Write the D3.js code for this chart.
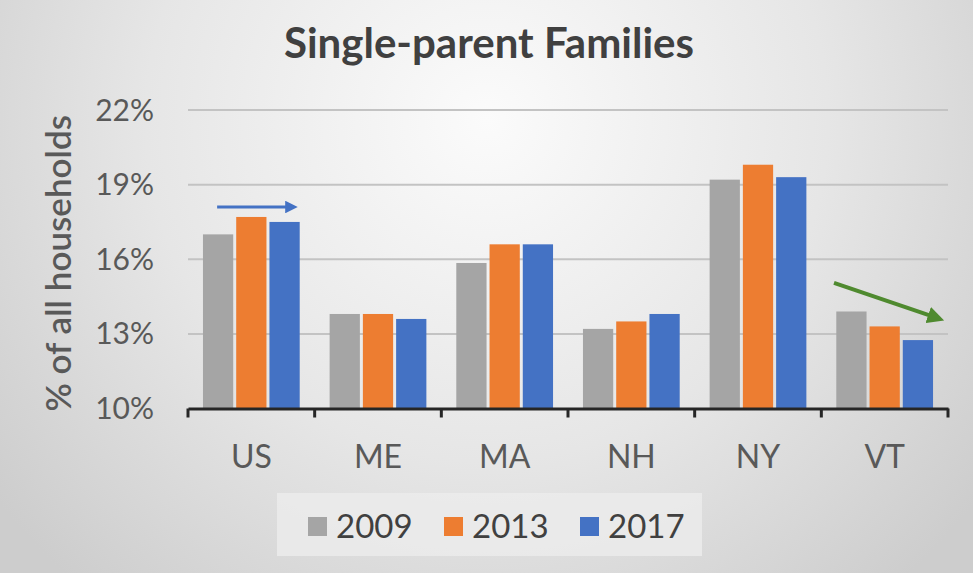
<!DOCTYPE html>
<html lang="en">
<head>
<meta charset="UTF-8">
<title>Single-parent Families</title>
<script src="https://d3js.org/d3.v7.min.js"></script>
<style>
    body { margin: 0; padding: 0; background: #ddd; }
    svg { display: block; font-family: Lato, 'Open Sans', sans-serif; }
    .tick-label { fill: #595959; font-size: 30px; }
    .cat-label { fill: #595959; font-size: 32px; }
    .legend-text { fill: #404040; font-size: 33px; }
</style>
</head>
<body>
<svg width="973" height="573"></svg>
<script>
// Data
const states = ["US", "ME", "MA", "NH", "NY", "VT"];
const years = ["2009", "2013", "2017"];
const values2009 = [17.0, 13.8, 15.85, 13.2, 19.2, 13.9];
const values2013 = [17.7, 13.8, 16.6, 13.5, 19.8, 13.3];
const values2017 = [17.5, 13.6, 16.6, 13.8, 19.3, 12.75];
const yTicks = [10, 13, 16, 19, 22];
const colors = ["#a5a5a5", "#ed7d31", "#4472c4"];

// trend arrows: category, fraction across band, value
const arrows = [
    { cat: "US", f0: 0.23, f1: 0.88, v0: 18.1, v1: 18.1, color: "#4472c4", w: 3 },
    { cat: "VT", f0: 0.10, f1: 0.97, v0: 15.05, v1: 13.65, color: "#4f8a2f", w: 4 }
];

const series = [values2009, values2013, values2017];
const rows = states.map((s, i) => ({
    state: s,
    vals: years.map((y, j) => ({ year: y, value: series[j][i] }))
}));

const svg = d3.select("svg");
const W = 973, H = 573;

// background gradient
const defs = svg.append("defs");
const grad = defs.append("radialGradient")
    .attr("id", "bg")
    .attr("gradientUnits", "userSpaceOnUse")
    .attr("cx", 487).attr("cy", 120).attr("r", 620);
grad.append("stop").attr("offset", "0%").attr("stop-color", "#fbfbfb");
grad.append("stop").attr("offset", "55%").attr("stop-color", "#e6e6e6");
grad.append("stop").attr("offset", "100%").attr("stop-color", "#cdcdcd");

svg.append("rect").attr("width", W).attr("height", H).attr("fill", "url(#bg)");

arrows.forEach((a, i) => {
    defs.append("marker")
        .attr("id", "head" + i)
        .attr("viewBox", "0 0 10 10")
        .attr("refX", 5).attr("refY", 5)
        .attr("markerWidth", 4.2).attr("markerHeight", 4.2)
        .attr("markerUnits", "strokeWidth")
        .attr("orient", "auto")
        .append("path")
        .attr("d", "M0,0 L10,5 L0,10 Z")
        .attr("fill", a.color);
});

const x0 = d3.scaleBand().domain(states).range([188, 948]);
const x1 = d3.scaleBand().domain(years).range([0, x0.bandwidth()])
    .paddingInner(0.09).paddingOuter(0.45);
const y = d3.scaleLinear().domain([10, 22]).range([408.5, 110]);
const color = d3.scaleOrdinal().domain(years).range(colors);

// title
svg.append("text")
    .attr("x", 489).attr("y", 58)
    .attr("text-anchor", "middle")
    .attr("font-size", 42)
    .attr("font-weight", "bold")
    .attr("fill", "#404040")
    .text("Single-parent Families");

// gridlines
svg.append("g")
    .selectAll("line")
    .data(yTicks.slice(1))
    .join("line")
    .attr("x1", 188).attr("x2", 948)
    .attr("y1", d => y(d)).attr("y2", d => y(d))
    .attr("stroke", "#c3c3c3")
    .attr("stroke-width", 2);

// y tick labels
svg.append("g")
    .selectAll("text")
    .data(yTicks)
    .join("text")
    .attr("class", "tick-label")
    .attr("x", 154)
    .attr("y", d => y(d))
    .attr("dy", "0.35em")
    .attr("text-anchor", "end")
    .text(d => d + "%");

// y axis title
svg.append("text")
    .attr("transform", `translate(71,${(y(10) + y(22)) / 2 + 4}) rotate(-90)`)
    .attr("text-anchor", "middle")
    .attr("font-size", 35)
    .attr("font-weight", 600)
    .attr("fill", "#595959")
    .text("% of all households");

// bars
svg.append("g")
    .selectAll("g")
    .data(rows)
    .join("g")
    .attr("transform", d => `translate(${x0(d.state)},0)`)
    .selectAll("rect")
    .data(d => d.vals)
    .join("rect")
    .attr("x", d => x1(d.year))
    .attr("y", d => y(d.value))
    .attr("width", x1.bandwidth())
    .attr("height", d => y(10) - y(d.value))
    .attr("fill", d => color(d.year));

// x axis
const xAxis = svg.append("g")
    .attr("transform", `translate(0,${y(10)})`)
    .call(d3.axisBottom(x0).tickSize(0).tickFormat(""));
xAxis.select(".domain").attr("stroke", "#262626").attr("stroke-width", 3);
xAxis.append("g")
    .selectAll("line")
    .data(states.map(s => x0(s)).concat([x0.range()[1]]))
    .join("line")
    .attr("x1", d => d).attr("x2", d => d)
    .attr("y1", 0).attr("y2", 9)
    .attr("stroke", "#262626")
    .attr("stroke-width", 3);

svg.append("g")
    .selectAll("text")
    .data(states)
    .join("text")
    .attr("class", "cat-label")
    .attr("x", d => x0(d) + x0.bandwidth() / 2)
    .attr("y", 468)
    .attr("text-anchor", "middle")
    .text(d => d);

// arrows
svg.append("g")
    .selectAll("line")
    .data(arrows)
    .join("line")
    .attr("x1", d => x0(d.cat) + d.f0 * x0.bandwidth())
    .attr("x2", d => x0(d.cat) + d.f1 * x0.bandwidth() - 8)
    .attr("y1", d => y(d.v0))
    .attr("y2", d => y(d.v1))
    .attr("stroke", d => d.color)
    .attr("stroke-width", d => d.w)
    .attr("marker-end", (d, i) => `url(#head${i})`);

// legend
const legend = svg.append("g");
legend.append("rect")
    .attr("x", 277).attr("y", 493)
    .attr("width", 425).attr("height", 63)
    .attr("fill", "#ececec")
    .attr("opacity", 0.8);
const item = legend.selectAll("g")
    .data(years)
    .join("g")
    .attr("transform", (d, i) => `translate(${308 + i * 136},526)`);
item.append("rect")
    .attr("x", 0).attr("y", -9)
    .attr("width", 19).attr("height", 19)
    .attr("fill", d => color(d));
item.append("text")
    .attr("class", "legend-text")
    .attr("x", 28)
    .attr("y", 0)
    .attr("dy", "0.36em")
    .text(d => d);
</script>
</body>
</html>
